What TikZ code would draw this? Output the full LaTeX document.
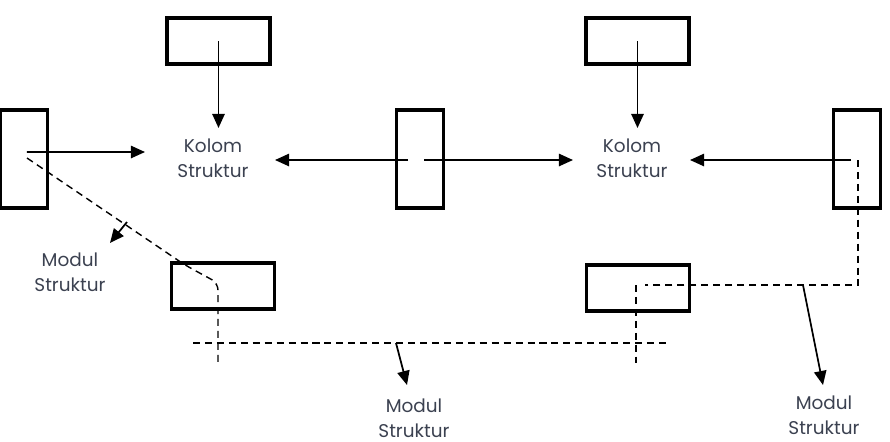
\documentclass[tikz,border=0pt]{standalone}
\usepackage{fontspec}
\setmainfont{Poppins}
\usetikzlibrary{arrows.meta}

\definecolor{inkgray}{HTML}{3B4150}

\begin{document}
\begin{tikzpicture}[x=0.02cm,y=-0.02cm]
	\tikzstyle{hbox} = [draw, line width=1.8pt, minimum width=2.06cm, minimum height=0.92cm, inner sep=0pt]
	\tikzstyle{vbox} = [draw, line width=1.8pt, minimum width=0.94cm, minimum height=1.96cm, inner sep=0pt]
	\tikzstyle{txt} = [align=center, text=inkgray, font=\fontsize{10.5}{14}\selectfont]
	\tikzstyle{edge} = [-{Triangle[length=8pt,width=7pt]}, line width=1pt]
	\tikzstyle{link} = [line width=0.8pt, dash pattern=on 4pt off 2.8pt]

	\useasboundingbox (0,0) rectangle (890,441);

%----------boxes------------------------------
	\node[hbox] (t1) at (218.5,41) {};
	\node[hbox] (t2) at (637.5,41) {};

	\node[vbox] (v1) at (24,159) {};
	\node[vbox] (v2) at (420,159) {};
	\node[vbox] (v3) at (857,159) {};

	\node[hbox] (b1) at (223,286) {};
	\node[hbox] (b2) at (638,288) {};

%----------labels-----------------------------
	\node[txt] (k1) at (213,158) {Kolom\\Struktur};
	\node[txt] (k2) at (632,158) {Kolom\\Struktur};

	\node[txt] (m1) at (70,272) {Modul\\Struktur};
	\node[txt] (m2) at (414,418) {Modul\\Struktur};
	\node[txt] (m3) at (824,415) {Modul\\Struktur};

%----------ends of the arrows----------------
	\coordinate (k1n) at (218.5,128);
	\coordinate (k2n) at (637.5,128);
	\coordinate (k1w) at (145,152);
	\coordinate (k1e) at (275,160);
	\coordinate (k2w) at (573,160);
	\coordinate (k2e) at (690,160);

	\coordinate (s1) at (127,222);
	\coordinate (s2) at (396,343);
	\coordinate (s3) at (803,285);
	\coordinate (m1t) at (110,243);
	\coordinate (m2t) at (407,385);
	\coordinate (m3t) at (823,385);

%----------solid arrows-----------------------
	\draw[edge] (t1.center) -- (k1n);
	\draw[edge] (t2.center) -- (k2n);

	\draw[edge] ([xshift=0.06cm,yshift=0.14cm]v1.center) -- (k1w);
	\draw[edge] ([xshift=-0.24cm,yshift=-0.02cm]v2.center) -- (k1e);
	\draw[edge] ([xshift=0.08cm,yshift=-0.02cm]v2.center) -- (k2w);
	\draw[edge] ([xshift=-0.12cm,yshift=-0.02cm]v3.center) -- (k2e);

%----------dashed module lines----------------
	\draw[link, rounded corners=4pt] ([xshift=0.06cm,yshift=0.02cm]v1.center) -- (185,265) -- (218,283) -- (218,363);
	\draw[link] (193,343) -- (666,343);
	\draw[link] (636,285) -- (636,363);
	\draw[link] ([xshift=0.02cm,yshift=-0.02cm]v3.center) -- (858,285) -- (645,285);

	\draw[edge] (s1) -- (m1t);
	\draw[edge] (s2) -- (m2t);
	\draw[edge] (s3) -- (m3t);
\end{tikzpicture}
\end{document}
